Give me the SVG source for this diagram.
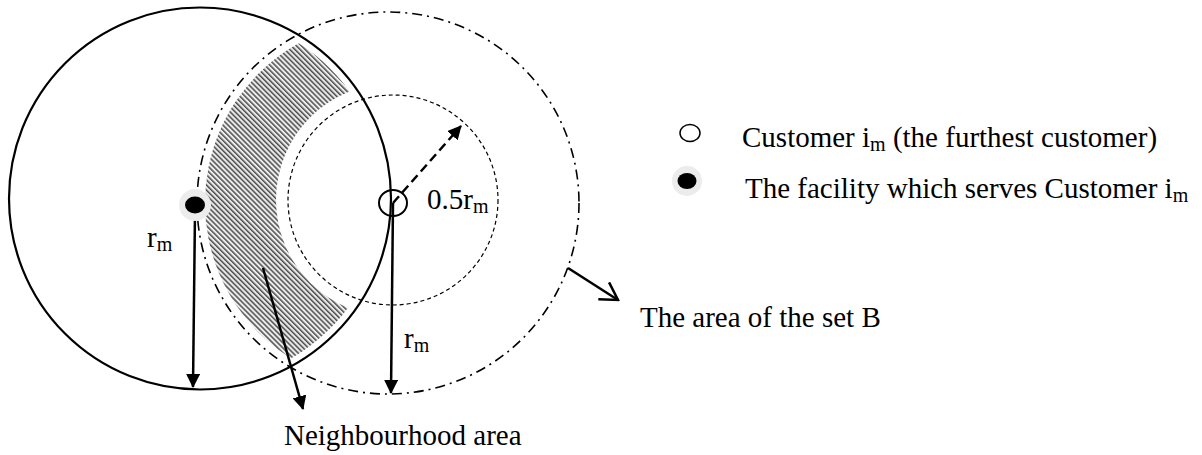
<svg xmlns="http://www.w3.org/2000/svg" width="1202" height="455" viewBox="0 0 1202 455">
<style>
text{font-family:"Liberation Serif","Times New Roman",serif;font-size:29px;fill:#000}
.sub{font-size:20px}
.solid{fill:none;stroke:#000;stroke-width:2.2}
.dashdot{fill:none;stroke:#000;stroke-width:1.6;stroke-dasharray:10 5 2 5}
.dash{fill:none;stroke:#000;stroke-width:1.2;stroke-dasharray:4 3}
.arr{fill:none;stroke:#000;stroke-width:2.5}
</style>
<defs>
<pattern id="hatch" width="3.6" height="3.6" patternUnits="userSpaceOnUse" patternTransform="rotate(-45)">
<rect width="3.6" height="3.6" fill="#ececec"/>
<rect width="1.5" height="3.6" fill="#4d4d4d"/>
</pattern>
<clipPath id="clipB"><circle cx="388" cy="203" r="183"/></clipPath>
<mask id="maskL">
<rect width="1202" height="455" fill="#000"/>
<circle cx="200" cy="198.5" r="184" fill="#fff"/>
<circle cx="393" cy="200" r="117" fill="#000"/>
</mask>
<marker id="tri" viewBox="0 0 14 14" markerWidth="14" markerHeight="14" refX="13" refY="7" orient="auto" markerUnits="userSpaceOnUse">
<path d="M0,0 L14,7 L0,14 z" fill="#000"/>
</marker>
<marker id="open" viewBox="0 0 20 22" markerWidth="20" markerHeight="22" refX="18" refY="11" orient="auto" markerUnits="userSpaceOnUse">
<path d="M1,1 L18,11 L1,21" fill="none" stroke="#000" stroke-width="2.5"/>
</marker>
</defs>
<rect width="1202" height="455" fill="#fff"/>

<g id="neighbourhood-hatch" clip-path="url(#clipB)">
<rect x="150" y="20" width="260" height="370" fill="url(#hatch)" mask="url(#maskL)"/>
</g>

<g id="circle-facility-range"><circle class="solid" cx="200" cy="198.5" r="191"/></g>
<g id="circle-set-B"><circle class="dashdot" cx="388" cy="203" r="191"/></g>
<g id="circle-half-range"><circle class="dash" cx="393" cy="200" r="105"/></g>

<g id="connectors">
<line class="arr" x1="195" y1="212" x2="193" y2="387" marker-end="url(#tri)"/>
<line class="arr" x1="393" y1="203" x2="391" y2="393" marker-end="url(#tri)"/>
<line class="arr" x1="393" y1="203" x2="461" y2="126" stroke-dasharray="9 5" marker-end="url(#tri)"/>
<line class="arr" x1="263" y1="268" x2="303" y2="409" marker-end="url(#tri)"/>
<line class="arr" x1="568" y1="268" x2="618" y2="300" marker-end="url(#open)"/>
</g>

<g id="facility">
<circle cx="195" cy="205" r="16" fill="#ececec"/>
<ellipse cx="195" cy="205" rx="10" ry="8.5" fill="#000"/>
</g>
<g id="customer">
<ellipse cx="393" cy="203" rx="14" ry="13" fill="none" stroke="#000" stroke-width="2"/>
</g>

<g id="labels">
<text x="147" y="247">r<tspan class="sub" dy="4">m</tspan></text>
<text x="427" y="209">0.5r<tspan class="sub" dy="4">m</tspan></text>
<text x="404" y="348">r<tspan class="sub" dy="4">m</tspan></text>
<text x="284" y="445">Neighbourhood area</text>
<text x="640" y="327">The area of the set B</text>
</g>

<g id="legend-customer">
<ellipse cx="690" cy="133" rx="10" ry="8.5" fill="none" stroke="#000" stroke-width="1.5"/>
<text x="742" y="147">Customer i<tspan class="sub" dy="4">m</tspan><tspan dy="-4"> (the furthest customer)</tspan></text>
</g>
<g id="legend-facility">
<circle cx="687" cy="181" r="15" fill="#ececec"/>
<ellipse cx="687" cy="181" rx="9.5" ry="8" fill="#000"/>
<text x="745" y="198">The facility which serves Customer i<tspan class="sub" dy="4">m</tspan></text>
</g>
</svg>
